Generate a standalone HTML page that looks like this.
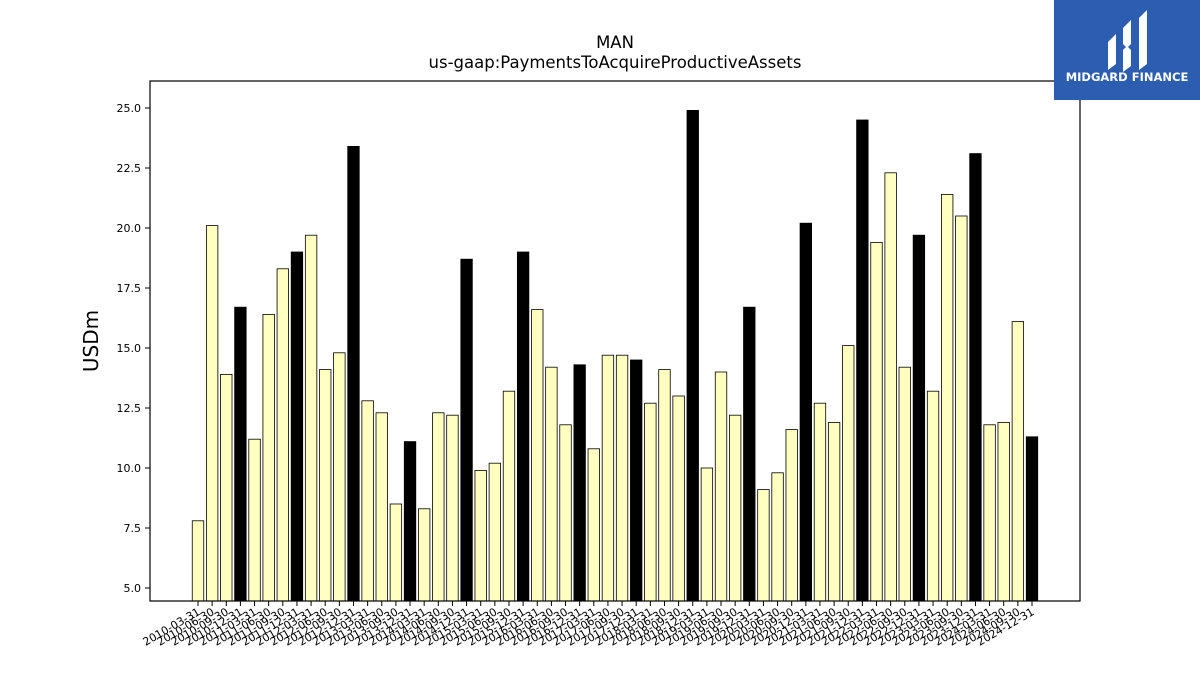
<!DOCTYPE html>
<html><head><meta charset="utf-8"><style>
html,body{margin:0;padding:0;background:#fff;}
svg{display:block;font-family:"DejaVu Sans","Liberation Sans",sans-serif;}
</style></head><body>
<svg id="chart" width="1200" height="675" viewBox="0 0 1200 675">
<rect width="1200" height="675" fill="#fff"/>
<text x="615" y="48" text-anchor="middle" font-size="16.5">MAN</text>
<text x="615" y="68" text-anchor="middle" font-size="16.5">us-gaap:PaymentsToAcquireProductiveAssets</text>
<text transform="translate(98,341) rotate(-90)" text-anchor="middle" font-size="20">USDm</text>
<g id="yticks"></g>
<g id="bars"></g>
<g id="xticks"></g>
<rect x="150" y="81" width="930" height="520" fill="none" stroke="#000" stroke-width="1.2"/>
<g>
<rect x="1054" y="0" width="146" height="100" fill="#2c5db0"/>
<path d="M1108 42 L1116 34 L1116 64 L1108 70 Z" fill="#fff"/>
<path d="M1123 28 L1131 20 L1131 44 L1127 48 L1123 44 Z" fill="#fff"/>
<path d="M1123 50 L1127 46 L1131 50 L1131 66 L1123 72 Z" fill="#fff"/>
<path d="M1139 18 L1147 10 L1147 64 L1139 70 Z" fill="#fff"/>
<text x="1127" y="81" text-anchor="middle" font-size="11.5" font-weight="bold" fill="#fff">MIDGARD FINANCE</text>
</g>
</svg>
<script>
const categories = [];
for (let yr = 2010; yr <= 2024; yr++) for (const q of ["03-31","06-30","09-30","12-31"]) categories.push(yr + "-" + q);
const values = [7.8,20.1,13.9,16.7,11.2,16.4,18.3,19.0,19.7,14.1,14.8,23.4,12.8,12.3,8.5,11.1,8.3,12.3,12.2,18.7,9.9,10.2,13.2,19.0,16.6,14.2,11.8,14.3,10.8,14.7,14.7,14.5,12.7,14.1,13.0,24.9,10.0,14.0,12.2,16.7,9.1,9.8,11.6,20.2,12.7,11.9,15.1,24.5,19.4,22.3,14.2,19.7,13.2,21.4,20.5,23.1,11.8,11.9,16.1,11.3];
const yTicks = [5.0,7.5,10.0,12.5,15.0,17.5,20.0,22.5,25.0];
const SVGNS = "http://www.w3.org/2000/svg";
const yMin = 4.458, yMax = 26.125, plotTop = 81, plotBottom = 601;
function yScale(v){ return plotBottom - (v - yMin) / (yMax - yMin) * (plotBottom - plotTop); }
const xFirst = 198, xLast = 1032;
function xScale(i){ return xFirst + i * (xLast - xFirst) / (categories.length - 1); }
function mk(tag, attrs, parent){ const e = document.createElementNS(SVGNS, tag); for (const k in attrs) e.setAttribute(k, attrs[k]); parent.appendChild(e); return e; }
const yg = document.getElementById("yticks");
yTicks.forEach(t => {
  const y = yScale(t);
  const l = mk("line", {x1:145, x2:150, y1:y, y2:y, stroke:"#000"}, yg);
  
  
  const tx = mk("text", {x:141, y:y+4, "text-anchor":"end", "font-size":11}, yg);
  
  
  tx.textContent = t.toFixed(1);
});
const bg = document.getElementById("bars"), xg = document.getElementById("xticks");
const bw = 11.5;
values.forEach((v, i) => {
  const x = xScale(i), y = yScale(v);
  const r = mk("rect", {x:x-bw/2, y:y, width:bw, height:plotBottom-y, fill:(i%4===3)?"#000":"#ffffc0", stroke:"#000", "stroke-width":0.8}, bg);
  
  
  const l = mk("line", {x1:x, x2:x, y1:plotBottom, y2:plotBottom+5, stroke:"#000"}, xg);
  
  
  const tx = mk("text", {x:x+3, y:plotBottom+13, "text-anchor":"end", "font-size":11, transform:"rotate(-30 " + (x+3) + " " + (plotBottom+13) + ")"}, xg);
  
  
  tx.textContent = categories[i];
});
</script>
</body></html>
